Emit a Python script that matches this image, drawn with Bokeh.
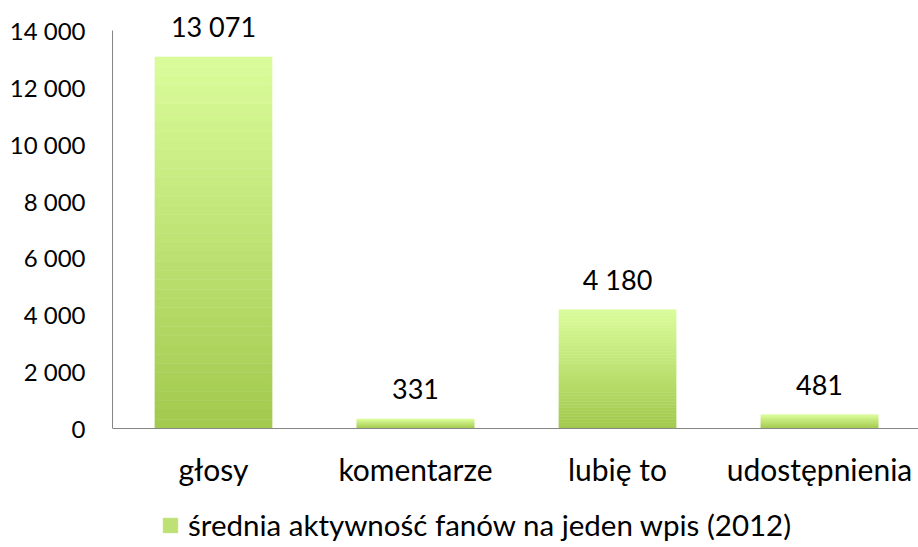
from bokeh.plotting import figure
from bokeh.models import (Range1d, FixedTicker, ColumnDataSource, LabelSet,
                          Legend, LegendItem)
from bokeh.core.properties import value
from bokeh.embed import file_html
from bokeh.resources import INLINE

categories = ["głosy", "komentarze", "lubię to", "udostępnienia"]
values = [13071, 331, 4180, 481]
value_labels = ["13 071", "331", "4 180", "481"]
y_ticks = [0, 2000, 4000, 6000, 8000, 10000, 12000, 14000]
y_tick_labels = ["0", "2 000", "4 000", "6 000", "8 000", "10 000", "12 000", "14 000"]
series_name = "średnia aktywność fanów na jeden wpis (2012)"

FONT = "Lato"
BOTTOM_COLOR = (0xA2, 0xC9, 0x4D)
TOP_COLOR = (0xDB, 0xFC, 0x9B)
N_SLICES = 40

xs = [i + 0.5 for i in range(len(categories))]

p = figure(width=918, height=547, output_backend="svg", toolbar_location=None,
           x_range=Range1d(0, 3.99), y_range=Range1d(-4186, 15055),
           min_border_left=112, min_border_right=0, min_border_top=0,
           min_border_bottom=0)
p.outline_line_color = None
p.xgrid.grid_line_color = None
p.ygrid.grid_line_color = None
p.background_fill_color = "white"
p.border_fill_color = "white"

# gradient bars: stacked slices, each a fraction of the bar's value
def lerp(a, b, t):
    return "#%02x%02x%02x" % tuple(int(round(a[k] + (b[k] - a[k]) * t)) for k in range(3))

sx, sb, st, sc = [], [], [], []
for x, v in zip(xs, values):
    for i in range(N_SLICES):
        sx.append(x)
        sb.append(v * i / N_SLICES)
        st.append(v * (i + 1) / N_SLICES)
        sc.append(lerp(BOTTOM_COLOR, TOP_COLOR, (i + 0.5) / N_SLICES))
src = ColumnDataSource(dict(x=sx, bottom=sb, top=st, color=sc))
p.vbar(x="x", bottom="bottom", top="top", width=0.58, source=src,
       fill_color="color", line_color="color", line_width=0.5)

# value labels
lsrc = ColumnDataSource(dict(x=xs, y=values, t=value_labels))
p.add_layout(LabelSet(x="x", y="y", text="t", source=lsrc, y_offset=30,
                      text_align="center", text_baseline="middle",
                      text_font=value(FONT), text_font_size="27px",
                      text_color="black"))

# axes
p.xaxis.fixed_location = 0
p.xaxis.ticker = FixedTicker(ticks=xs)
p.xaxis.major_label_overrides = {x: c for x, c in zip(xs, categories)}
p.xaxis.major_tick_line_color = None
p.xaxis.major_tick_out = 0
p.xaxis.major_tick_in = 0
p.xaxis.minor_tick_line_color = None
p.xaxis.axis_line_color = "#868686"
p.xaxis.major_label_standoff = 23
p.xaxis.major_label_text_font = FONT
p.xaxis.major_label_text_font_size = "30px"
p.xaxis.major_label_text_color = "black"

p.yaxis.ticker = FixedTicker(ticks=y_ticks)
p.yaxis.major_label_overrides = {t: l for t, l in zip(y_ticks, y_tick_labels)}
p.yaxis.bounds = (0, 14000)
p.yaxis.major_tick_line_color = None
p.yaxis.major_tick_out = 0
p.yaxis.major_tick_in = 0
p.yaxis.minor_tick_line_color = None
p.yaxis.axis_line_color = "#868686"
p.yaxis.major_label_standoff = 27
p.yaxis.major_label_text_font = FONT
p.yaxis.major_label_text_font_size = "24px"
p.yaxis.major_label_text_color = "black"

# legend
dummy = p.vbar(x=[0.5], top=[0], width=0.0, fill_color="#bee175", line_color="#bee175")
legend = Legend(items=[LegendItem(label=series_name, renderers=[dummy])],
                location=(49, 5), orientation="horizontal",
                padding=0, margin=0, spacing=0, border_line_color=None,
                background_fill_alpha=0, glyph_width=18, glyph_height=18,
                label_standoff=9, label_text_font=FONT,
                label_text_font_size="29.5px", label_text_color="black",
                label_height=18)
p.add_layout(legend, "center")

open("out.html", "w").write(file_html(p, INLINE))
